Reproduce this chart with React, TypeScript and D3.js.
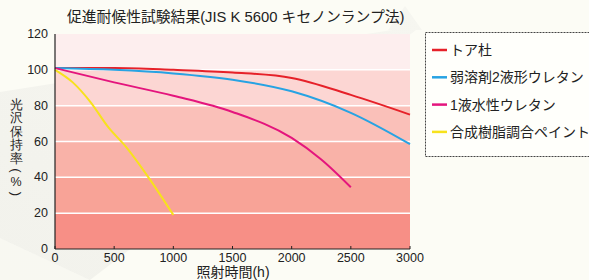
import { useEffect } from 'react';
import * as d3 from 'd3';

// irradiation hours
const hoursToa = [0, 500, 1000, 1500, 2000, 2500, 3000];
const toa = [101, 101, 100, 98.5, 95.5, 86, 75];
const hoursWeak = [0, 500, 1000, 1500, 2000, 2500, 3000];
const weak = [101, 100, 98, 94.5, 88, 76, 58.5];
const hoursWater = [0, 500, 1000, 1500, 2000, 2250, 2500];
const water = [101, 93, 85.5, 76.5, 62, 50, 34.5];
const hoursSynth = [0, 150, 300, 450, 600, 800, 1000];
const synth = [100, 93, 82, 68, 57, 39, 19];

const seriesNames = ['トア杜', '弱溶剤2液形ウレタン', '1液水性ウレタン', '合成樹脂調合ペイント'];
const seriesColors = ['#e62129', '#27a3e3', '#e4157d', '#f7e21c'];
const xTicks = [0, 500, 1000, 1500, 2000, 2500, 3000];
const yTicks = [0, 20, 40, 60, 80, 100, 120];
const bandColors = ['#f78f86', '#f8a397', '#f9b2a8', '#fac0b9', '#fcd6d3', '#fdeeee'];
const yLabelChars = ['光', '沢', '保', '持', '率', '(', '%', ')'];

const title = '促進耐候性試験結果(JIS K 5600 キセノンランプ法)';
const xTitle = '照射時間(h)';

const W = 589;
const H = 280;
const FONT = "'Liberation Sans', Arial, sans-serif";
const JP = "'Liberation Sans', 'Noto Sans CJK JP', sans-serif";

export default function App() {
  useEffect(() => {
    document.body.style.margin = '0';
  }, []);

  const x = d3.scaleLinear().domain([0, 3000]).range([55, 410]);
  const y = d3.scaleLinear().domain([0, 120]).range([249, 34]);

  const series = [
    { h: hoursToa, v: toa },
    { h: hoursWeak, v: weak },
    { h: hoursWater, v: water },
    { h: hoursSynth, v: synth },
  ];

  const line = d3
    .line<[number, number]>()
    .x((d) => x(d[0]))
    .y((d) => y(d[1]))
    .curve(d3.curveMonotoneX);

  // vertical label: CJK glyphs get a full step, rotated parens a short one
  let cy = 98;
  const yLabel = yLabelChars.map((c) => {
    const rot = c === '(' || c === ')';
    const step = rot ? 10 : 13.5;
    cy += step / 2;
    const pos = cy;
    cy += step / 2;
    return { c, rot, pos };
  });

  return (
    <svg width={W} height={H} style={{ display: 'block', background: '#fcfcf5' }}>
      <defs>
        <linearGradient id="swoosh" x1="0" y1="1" x2="1" y2="0">
          <stop offset="0" stopColor="#e8e8e3" />
          <stop offset="1" stopColor="#f0f0eb" />
        </linearGradient>
      </defs>
      {/* faint background arrow */}
      <path
        d="M0,92 L392,30 L388,30 L405,6 L422,30 L416,30 L90,280 L0,280 Z"
        fill="url(#swoosh)"
        opacity={0.5}
      />
      <path d="M0,238 L90,280 L0,280 Z" fill="#fcfcf5" opacity={0.6} />

      {/* bands */}
      {bandColors.map((c, i) => (
        <rect
          key={i}
          x={x(0)}
          y={y(yTicks[i + 1])}
          width={x(3000) - x(0)}
          height={y(yTicks[i]) - y(yTicks[i + 1])}
          fill={c}
        />
      ))}
      {yTicks.slice(1, -1).map((t) => (
        <line key={t} x1={x(0)} x2={x(3000)} y1={y(t)} y2={y(t)} stroke="#fff" strokeWidth={1.5} />
      ))}

      {/* series */}
      {series.map((s, i) => (
        <path
          key={i}
          d={line(s.h.map((h, j) => [h, s.v[j]] as [number, number])) || ''}
          fill="none"
          stroke={seriesColors[i]}
          strokeWidth={2}
        />
      ))}

      {/* axes */}
      <line x1={x(0)} x2={x(0)} y1={y(120)} y2={y(0)} stroke="#222" strokeWidth={1.2} />
      <line x1={x(0)} x2={x(3000)} y1={y(0)} y2={y(0)} stroke="#222" strokeWidth={1.2} />
      {xTicks.map((t) => (
        <g key={t}>
          <line x1={x(t)} x2={x(t)} y1={y(0)} y2={y(0) - 3} stroke="#222" />
          <text x={x(t)} y={262} textAnchor="middle" fontFamily={FONT} fontSize={12.5} fill="#222">
            {t}
          </text>
        </g>
      ))}
      {yTicks.map((t) => (
        <text key={t} x={48} y={y(t) + 4} textAnchor="end" fontFamily={FONT} fontSize={12.5} fill="#222">
          {t}
        </text>
      ))}

      {/* titles */}
      <text x={67} y={22} fontFamily={JP} fontSize={14.8} fill="#222">
        {title}
      </text>
      <text x={233} y={277} textAnchor="middle" fontFamily={JP} fontSize={14} fill="#222">
        {xTitle}
      </text>
      {yLabel.map(({ c, rot, pos }, i) => (
        <text
          key={i}
          x={16}
          y={pos}
          textAnchor="middle"
          dominantBaseline="central"
          fontFamily={FONT}
          fontSize={rot ? 13 : 12.5}
          fill="#222"
          transform={rot ? `rotate(90 16 ${pos})` : undefined}
        >
          {c}
        </text>
      ))}

      {/* legend */}
      <rect x={425.5} y={32.5} width={200} height={124} fill="#fffffb" stroke="#444" strokeDasharray="2,1" />
      {seriesNames.map((n, i) => {
        const ly = 50 + i * 27.3;
        return (
          <g key={n}>
            <line x1={432} x2={447} y1={ly} y2={ly} stroke={seriesColors[i]} strokeWidth={2.5} />
            <text x={450} y={ly} dominantBaseline="central" fontFamily={JP} fontSize={14} fill="#222">
              {n}
            </text>
          </g>
        );
      })}
    </svg>
  );
}
